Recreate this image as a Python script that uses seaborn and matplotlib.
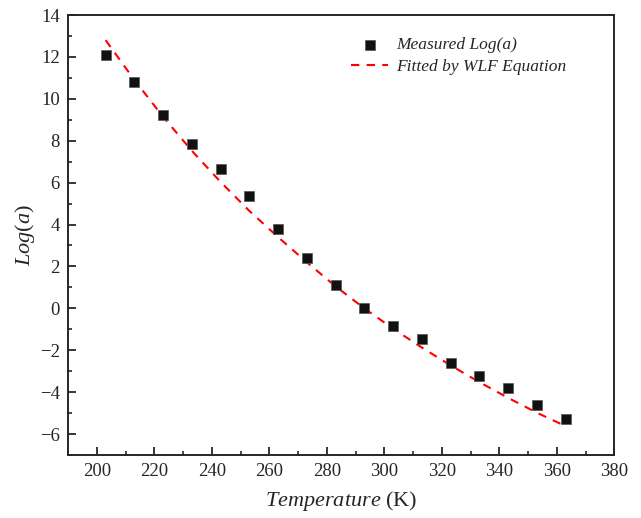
import matplotlib
matplotlib.use("Agg")
import matplotlib.pyplot as plt
import seaborn as sns
import pandas as pd
from matplotlib.ticker import MultipleLocator

temperature = [203, 213, 223, 233, 243, 253, 263, 273, 283, 293, 303, 313, 323, 333, 343, 353, 363]
measured_loga = [12.1, 10.8, 9.22, 7.84, 6.64, 5.35, 3.77, 2.39, 1.1, 0.0, -0.86, -1.48, -2.63, -3.25, -3.82, -4.59, -5.3]
fitted_loga = [12.8, 10.9, 9.14, 7.52, 6.03, 4.65, 3.4, 2.2, 1.05, 0.0, -0.97, -1.87, -2.72, -3.52, -4.27, -4.98, -5.62]

sns.set_style("ticks")
plt.rcParams['font.family'] = ['Liberation Serif', 'DejaVu Serif']
plt.rcParams['mathtext.fontset'] = 'custom'
plt.rcParams['mathtext.rm'] = 'Liberation Serif'
plt.rcParams['mathtext.it'] = 'Liberation Serif:italic'

df = pd.DataFrame({"T": temperature, "meas": measured_loga, "fit": fitted_loga})

fig = plt.figure(figsize=(6.41, 5.18), dpi=100)
ax = fig.add_axes([0.1065, 0.1216, 0.852, 0.8494])

sns.lineplot(data=df, x="T", y="fit", ax=ax, color="#ff0000", lw=1.5,
             linestyle=(0, (4, 3.5)), label="Fitted by WLF Equation", zorder=2)
sns.scatterplot(data=df, x="T", y="meas", ax=ax, marker="s", s=60, color="#111111",
                edgecolor="#555555", linewidth=0.5, label="Measured Log(a)", zorder=3)

ax.set_xlim(190, 380)
ax.set_ylim(-7, 14)
ax.xaxis.set_major_locator(MultipleLocator(20))
ax.xaxis.set_minor_locator(MultipleLocator(10))
ax.yaxis.set_major_locator(MultipleLocator(2))
ax.yaxis.set_minor_locator(MultipleLocator(1))
ax.tick_params(which="major", direction="in", length=6, width=1.3, labelsize=13.5, pad=6)
ax.tick_params(which="minor", direction="in", length=3, width=1.2)
for s in ax.spines.values():
    s.set_linewidth(1.4)

ax.set_xlabel(r"$Temperature$ (K)", fontsize=16, labelpad=6)
ax.set_ylabel(r"$Log(a)$", fontsize=16, labelpad=2)

handles, labels = ax.get_legend_handles_labels()
order = [labels.index("Measured Log(a)"), labels.index("Fitted by WLF Equation")]
leg = ax.legend([handles[i] for i in order], [labels[i] for i in order],
                loc="upper right", bbox_to_anchor=(0.94, 0.985), frameon=False,
                prop={"family": "Liberation Serif", "style": "italic", "size": 12.5},
                handlelength=2.1, labelspacing=0.3, handletextpad=0.45)

fig.savefig("out.png", dpi=100)
